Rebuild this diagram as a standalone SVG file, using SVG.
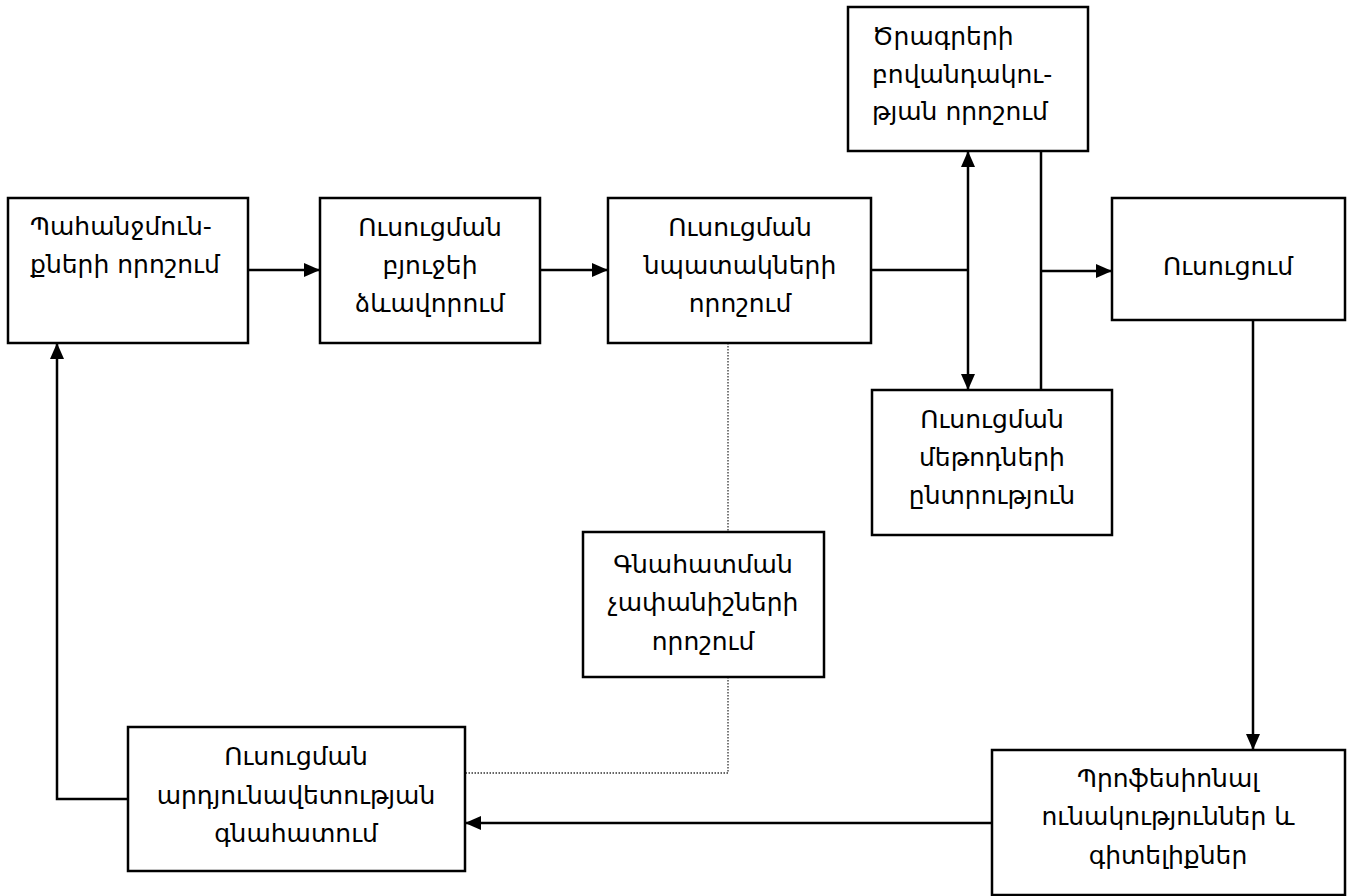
<svg xmlns="http://www.w3.org/2000/svg" width="1355" height="896" viewBox="0 0 1355 896">
  <style>
    .box { fill: #fff; stroke: #000; stroke-width: 2.5; }
    .lbl { font-family: "DejaVu Sans", "Noto Sans", sans-serif; font-size: 25px; fill: #000; text-anchor: middle; }
    .lbl.left { text-anchor: start; }
    .wire { fill: none; stroke: #000; stroke-width: 2.5; }
    .dot { fill: none; stroke: #333; stroke-width: 1.3; stroke-dasharray: 1.5 1.5; }
  </style>
  <defs>
    <marker id="arrow" viewBox="0 0 16 14" refX="16" refY="7" markerWidth="16" markerHeight="14" markerUnits="userSpaceOnUse" orient="auto-start-reverse">
      <path d="M0,0 L16,7 L0,14 Z" fill="#000"/>
    </marker>
  </defs>
  <rect width="1355" height="896" fill="#fff"/>

  <g id="connectors">
    <line class="wire" x1="248" y1="270" x2="320" y2="270" marker-end="url(#arrow)"/>
    <line class="wire" x1="540" y1="270" x2="608" y2="270" marker-end="url(#arrow)"/>
    <line class="wire" x1="871" y1="270" x2="968" y2="270"/>
    <line class="wire" x1="968" y1="151" x2="968" y2="390" marker-start="url(#arrow)" marker-end="url(#arrow)"/>
    <line class="wire" x1="1041" y1="151" x2="1041" y2="390"/>
    <line class="wire" x1="1041" y1="271" x2="1112" y2="271" marker-end="url(#arrow)"/>
    <line class="wire" x1="1253" y1="320" x2="1253" y2="750" marker-end="url(#arrow)"/>
    <line class="wire" x1="992" y1="823" x2="465" y2="823" marker-end="url(#arrow)"/>
    <polyline class="wire" points="128,799 57,799 57,343" marker-end="url(#arrow)"/>
    <line class="dot" x1="728" y1="343" x2="728" y2="532"/>
    <polyline class="dot" points="728,677 728,773 465,773"/>
  </g>

  <g id="node-demands">
    <rect class="box" x="8" y="198" width="240" height="145"/>
    <text class="lbl left" x="30" y="235">Պահանջմուն-</text>
    <text class="lbl left" x="30" y="273">քների որոշում</text>
  </g>

  <g id="node-budget">
    <rect class="box" x="320" y="198" width="220" height="145"/>
    <text class="lbl" x="430" y="236">Ուսուցման</text>
    <text class="lbl" x="430" y="274">բյուջեի</text>
    <text class="lbl" x="430" y="312">ձևավորում</text>
  </g>

  <g id="node-goals">
    <rect class="box" x="608" y="198" width="263" height="145"/>
    <text class="lbl" x="740" y="236">Ուսուցման</text>
    <text class="lbl" x="740" y="274">նպատակների</text>
    <text class="lbl" x="740" y="312">որոշում</text>
  </g>

  <g id="node-content">
    <rect class="box" x="848" y="7" width="240" height="144"/>
    <text class="lbl left" x="872" y="45">Ծրագրերի</text>
    <text class="lbl left" x="872" y="83">բովանդակու-</text>
    <text class="lbl left" x="872" y="120">թյան որոշում</text>
  </g>

  <g id="node-training">
    <rect class="box" x="1112" y="198" width="233" height="122"/>
    <text class="lbl" x="1228" y="275">Ուսուցում</text>
  </g>

  <g id="node-methods">
    <rect class="box" x="872" y="390" width="240" height="145"/>
    <text class="lbl" x="992" y="428">Ուսուցման</text>
    <text class="lbl" x="992" y="466">մեթոդների</text>
    <text class="lbl" x="992" y="504">ընտրություն</text>
  </g>

  <g id="node-criteria">
    <rect class="box" x="583" y="532" width="241" height="145"/>
    <text class="lbl" x="703" y="573">Գնահատման</text>
    <text class="lbl" x="703" y="611">չափանիշների</text>
    <text class="lbl" x="703" y="650">որոշում</text>
  </g>

  <g id="node-evaluation">
    <rect class="box" x="128" y="727" width="337" height="144"/>
    <text class="lbl" x="296" y="765">Ուսուցման</text>
    <text class="lbl" x="296" y="804">արդյունավետության</text>
    <text class="lbl" x="296" y="842">գնահատում</text>
  </g>

  <g id="node-skills">
    <rect class="box" x="992" y="750" width="353" height="145"/>
    <text class="lbl" x="1168" y="787">Պրոֆեսիոնալ</text>
    <text class="lbl" x="1168" y="825">ունակություններ և</text>
    <text class="lbl" x="1168" y="864">գիտելիքներ</text>
  </g>
</svg>
